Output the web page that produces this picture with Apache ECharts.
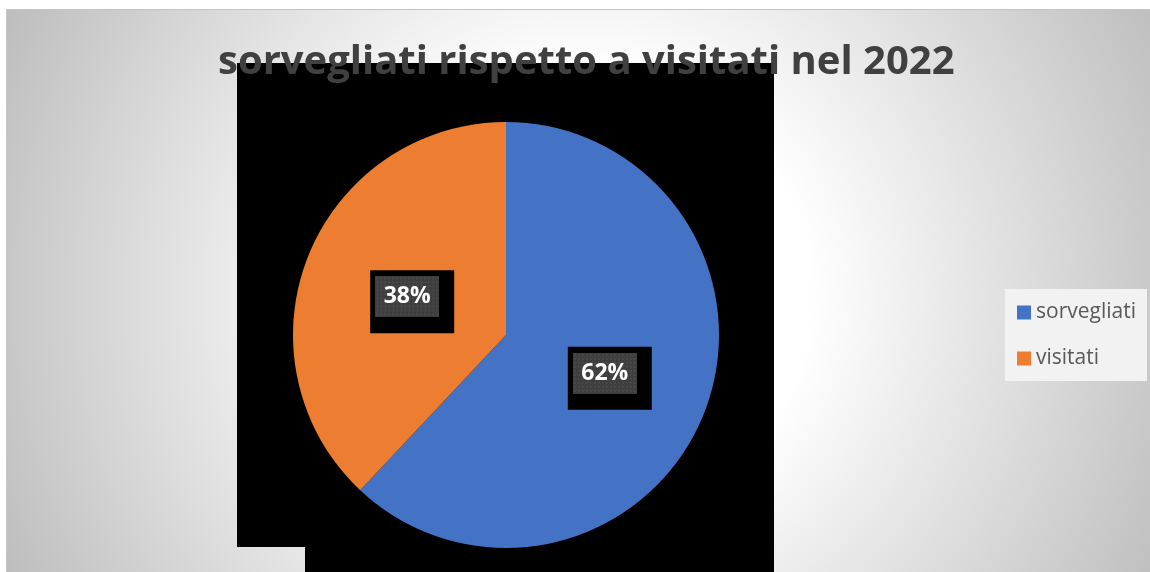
<!DOCTYPE html>
<html>
<head>
<meta charset="utf-8">
<script src="https://cdn.jsdelivr.net/npm/echarts@6/dist/echarts.min.js"></script>
<style>
  html, body { margin: 0; padding: 0; background: #ffffff; }
  #chart { width: 1150px; height: 572px; }
</style>
</head>
<body>
<div id="chart"></div>
<script>
// Slice names, shares and colours
const categories = ['sorvegliati', 'visitati'];
const shares = [62, 38];
const sliceColors = ['#4472c4', '#ed7d31'];
const chartTitle = 'sorvegliati rispetto a visitati nel 2022';

const FONT = '"Open Sans", "Noto Sans", sans-serif';

// Dotted dark fill for the percentage boxes
function dottedTile(w, h) {
  const c = document.createElement('canvas');
  c.width = w; c.height = h;
  const g = c.getContext('2d');
  g.fillStyle = '#3e3e3e';
  g.fillRect(0, 0, w, h);
  g.fillStyle = '#4a4a4a';
  for (let y = 1; y < h; y += 4) {
    for (let x = 1; x < w; x += 4) {
      g.fillRect(x, y, 2, 2);
    }
  }
  return c;
}

// pull the percentage boxes slightly toward the centre
const labelOffsets = [[2, 3], [8, 7]];

const pieData = categories.map((name, i) => ({
  name: name,
  value: shares[i],
  itemStyle: { color: sliceColors[i] },
  label: { offset: labelOffsets[i] }
}));

const chart = echarts.init(document.getElementById('chart'), null, { renderer: 'canvas' });

chart.setOption({
  animation: false,
  backgroundColor: '#ffffff',
  title: {
    text: chartTitle,
    left: 218,
    top: 43,
    padding: 0,
    textStyle: {
      fontFamily: FONT,
      fontWeight: 'bold',
      fontSize: 40,
      color: '#404040'
    },
    z: 10
  },
  legend: {
    orient: 'vertical',
    left: 1005,
    top: 289,
    padding: [13, 11, 12, 12],
    backgroundColor: '#f2f2f2',
    icon: 'rect',
    itemWidth: 14,
    itemHeight: 14,
    itemGap: 25,
    data: categories,
    textStyle: {
      fontFamily: FONT,
      fontSize: 21,
      lineHeight: 20,
      color: '#595959'
    }
  },
  graphic: [
    {
      // chart area with a soft radial fill
      type: 'rect',
      z: 0,
      silent: true,
      shape: { x: 6.5, y: 9.5, width: 1150, height: 570 },
      style: {
        fill: {
          type: 'radial',
          x: 585, y: 295, r: 640,
          global: true,
          colorStops: [
            { offset: 0, color: '#ffffff' },
            { offset: 0.35, color: '#ffffff' },
            { offset: 1, color: '#bebebe' }
          ]
        },
        stroke: '#c4c4c4',
        lineWidth: 1
      }
    },
    {
      // dark plot backdrop behind the pie
      type: 'polygon',
      z: 1,
      silent: true,
      shape: {
        points: [[237, 63], [774, 63], [774, 572], [305, 572], [305, 547], [237, 547]]
      },
      style: { fill: '#000000' }
    }
  ],
  series: [
    {
      type: 'pie',
      name: 'quota',
      center: [506, 335],
      radius: 213,
      startAngle: 90,
      clockwise: true,
      z: 3,
      data: pieData,
      itemStyle: { borderWidth: 0 },
      emphasis: { disabled: true },
      labelLine: { show: false },
      label: {
        show: true,
        position: 'inside',
        formatter: '{v|{d}%}',
        backgroundColor: '#000000',
        padding: [6, 15, 16, 5],
        rich: {
          v: {
            fontFamily: FONT,
            fontWeight: 'bold',
            fontSize: 23,
            color: '#ffffff',
            width: 64,
            height: 41,
            lineHeight: 41,
            align: 'center',
            verticalAlign: 'middle',
            backgroundColor: { image: dottedTile(64, 41) }
          }
        }
      }
    }
  ]
});
</script>
</body>
</html>
